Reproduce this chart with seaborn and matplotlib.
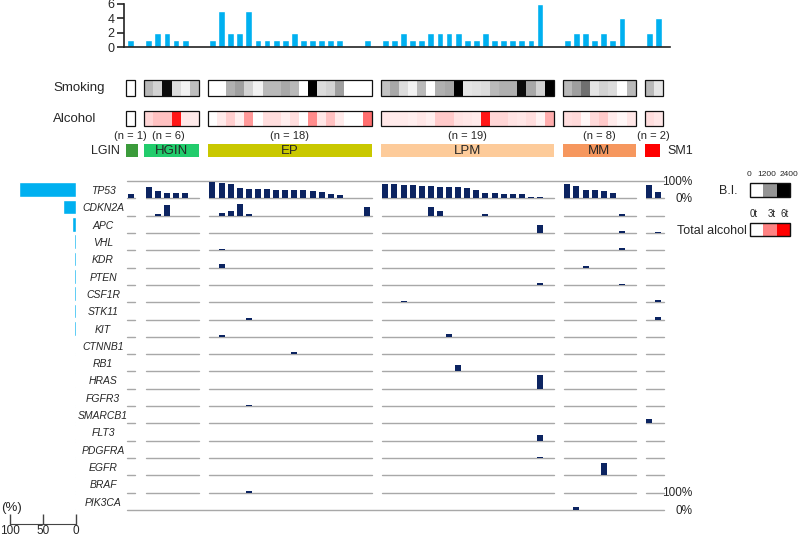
import numpy as np
import pandas as pd
import matplotlib
matplotlib.use("Agg")
import matplotlib.pyplot as plt
from matplotlib import font_manager
from matplotlib.colors import LinearSegmentedColormap
from matplotlib.patches import Rectangle
import seaborn as sns

sns.set_style("white")
plt.rcParams["font.family"] = ["Liberation Sans", "DejaVu Sans"]
installed = {f.name for f in font_manager.fontManager.ttflist}
NARROW = "Liberation Sans Narrow" if "Liberation Sans Narrow" in installed else "Liberation Sans"

groups = ["LGIN", "HGIN", "EP", "LPM", "MM", "SM1"]
group_n = [1, 6, 18, 19, 8, 2]
group_colors = ["#3b9b3b", "#22cc6c", "#c9c800", "#fdcb9a", "#f6975e", "#fe0000"]

genes = ["TP53", "CDKN2A", "APC", "VHL", "KDR", "PTEN", "CSF1R", "STK11", "KIT",
         "CTNNB1", "RB1", "HRAS", "FGFR3", "SMARCB1", "FLT3", "PDGFRA", "EGFR",
         "BRAF", "PIK3CA"]

# Brinkman index per case, groups in order LGIN | HGIN | EP | LPM | MM | SM1
smoking_bi = [0,
              800, 500, 2300, 400, 150, 750,
              0, 0, 900, 1100, 500, 150, 800, 800, 1000, 800, 0, 2400, 400, 500, 1100, 0, 0, 0,
              700, 1000, 400, 150, 800, 0, 900, 1000, 2400, 300, 350, 400, 800, 900, 900, 2300,
              1000, 500, 2400,
              800, 1100, 1500, 300, 500, 400, 0, 800,
              800, 300]

# total alcohol (t) per case
alcohol_t = [0,
             1.0, 1.5, 1.5, 5.5, 0.6, 0.5,
             0, 0.5, 1.2, 0.4, 2.5, 0, 0.8, 0.8, 0.4, 0.8, 0, 2.8, 0.6, 1.5, 0.5, 0, 0, 3.5,
             0.6, 0.5, 0.5, 0.4, 0.6, 0.4, 1.3, 1.3, 0.7, 0.6, 0.5, 5.5, 1.0, 1.0, 0.7, 0.6,
             0.8, 0.3, 2.0,
             0.8, 0.9, 0.2, 0.9, 1.3, 0.5, 0.2, 0.6,
             0.8, 0.6]

# allele frequency (%) per case, 0 = no mutation
tp53_vaf = [24,
            68, 40, 33, 30, 30, 0,
            92, 87, 81, 58, 52, 52, 52, 48, 48, 48, 48, 42, 38, 23, 19, 0, 0, 0,
            83, 81, 77, 77, 73, 71, 67, 67, 64, 58, 48, 29, 29, 23, 23, 23, 10, 10, 0,
            81, 69, 48, 48, 42, 29, 0, 0,
            77, 38]

cdkn2a_vaf = [0,
              0, 8, 60, 0, 0, 0,
              0, 13, 29, 67, 8, 0, 0, 0, 0, 0, 0, 0, 0, 0, 0, 0, 0, 48,
              0, 0, 0, 0, 0, 50, 29, 0, 0, 0, 0, 8, 0, 0, 0, 0, 0, 0, 0,
              0, 0, 0, 0, 0, 0, 12, 0,
              0, 0]

# other genes: (group, case index in group, allele frequency %)
other_muts = {
    "APC": [("LPM", 17, 46), ("MM", 6, 10), ("SM1", 1, 8)],
    "VHL": [("EP", 1, 10), ("MM", 6, 15)],
    "KDR": [("EP", 1, 23), ("MM", 2, 8)],
    "PTEN": [("LPM", 17, 13), ("MM", 6, 8)],
    "CSF1R": [("LPM", 2, 8), ("SM1", 1, 10)],
    "STK11": [("EP", 4, 9), ("SM1", 1, 15)],
    "KIT": [("EP", 1, 8), ("LPM", 7, 15)],
    "CTNNB1": [("EP", 9, 10)],
    "RB1": [("LPM", 8, 37)],
    "HRAS": [("LPM", 17, 81)],
    "FGFR3": [("EP", 4, 8)],
    "SMARCB1": [("SM1", 0, 25)],
    "FLT3": [("LPM", 17, 35)],
    "PDGFRA": [("LPM", 17, 8)],
    "EGFR": [("MM", 4, 71)],
    "BRAF": [("EP", 4, 8)],
    "PIK3CA": [("MM", 1, 15)],
}

# ---- derived tables ----
n_cases = sum(group_n)
g_start_case = np.concatenate([[0], np.cumsum(group_n)[:-1]])
g_start_slot = g_start_case + np.arange(len(groups))   # one empty slot between groups
slots = np.concatenate([np.arange(n) + s for n, s in zip(group_n, g_start_slot)])
n_slots = slots[-1] + 1

vaf = np.zeros((len(genes), n_cases))
vaf[0] = tp53_vaf
vaf[1] = cdkn2a_vaf
for gene, muts in other_muts.items():
    for grp, i, v in muts:
        vaf[genes.index(gene), g_start_case[groups.index(grp)] + i] = v

counts = (vaf > 0).sum(axis=0)
freq = (vaf > 0).sum(axis=1) / n_cases * 100

# ---- figure in pixel layout ----
W, H = 800, 539
X0, PITCH = 126, 9.1
fig = plt.figure(figsize=(W / 100, H / 100), dpi=100)


def px_ax(l, t, r, b):
    return fig.add_axes([l / W, 1 - b / H, (r - l) / W, (b - t) / H])


def ftext(x, y, s, **kw):
    return fig.text(x / W, 1 - y / H, s, **kw)


def slot_x(p):
    return (p - X0) / PITCH - 0.5


BLUE = "#00b0f0"
NAVY = "#0c2461"
GRID = "#a8a8a8"

# top: number of mutations per case
ax_top = px_ax(124, 4, 670, 47)
df_top = pd.DataFrame({"slot": slots, "n": counts})
sns.barplot(data=df_top, x="slot", y="n", native_scale=True, color=BLUE, saturation=1,
            width=0.75, errorbar=None, ax=ax_top)
ax_top.set_xlim(slot_x(124), slot_x(670))
ax_top.set_ylim(0, 6)
ax_top.set_yticks([0, 2, 4, 6])
ax_top.set_xticks([])
ax_top.set_xlabel("")
ax_top.set_ylabel("")
for s in ["top", "right"]:
    ax_top.spines[s].set_visible(False)
for s in ["left", "bottom"]:
    ax_top.spines[s].set_color("#222222")
    ax_top.spines[s].set_linewidth(1.2)
ax_top.tick_params(axis="y", left=True, length=5, width=1.2, labelsize=9, pad=2)

# smoking / alcohol strips
bi_cmap = LinearSegmentedColormap.from_list("bi", ["#ffffff", "#969696", "#000000"])
alc_cmap = LinearSegmentedColormap.from_list("alc", ["#ffffff", "#ff8484", "#ff0000"])

for vals, cmap, vmax, top, bot in [(smoking_bi, bi_cmap, 2400, 80, 96),
                                    (alcohol_t, alc_cmap, 6, 111, 126)]:
    grid = np.full((1, n_slots), np.nan)
    grid[0, slots] = vals
    ax = px_ax(X0, top, X0 + PITCH * n_slots, bot)
    sns.heatmap(grid, ax=ax, cmap=cmap, vmin=0, vmax=vmax, cbar=False,
                xticklabels=False, yticklabels=False)
    for n, s in zip(group_n, g_start_slot):
        ax.add_patch(Rectangle((s, 0), n, 1, fill=False, ec="#111111", lw=0.9, clip_on=False))

ftext(53, 88, "Smoking", fontsize=9.5, va="center", ha="left")
ftext(53, 119, "Alcohol", fontsize=9.5, va="center", ha="left")

# group bars
ax_g = px_ax(X0, 144, X0 + PITCH * n_slots, 157)
ax_g.set_xlim(0, n_slots)
ax_g.set_ylim(0, 1)
ax_g.axis("off")
for name, n, s, c in zip(groups, group_n, g_start_slot, group_colors):
    if name == "LGIN":
        ax_g.add_patch(Rectangle((-0.33, 0), 1.65, 1, color=c, lw=0))
        ax_g.text(-0.7, 0.5, name, ha="right", va="center", fontsize=9)
    elif name == "SM1":
        ax_g.add_patch(Rectangle((s, 0), n * 0.85, 1, color=c, lw=0))
        ax_g.text(s + n + 0.55, 0.5, name, ha="left", va="center", fontsize=9, clip_on=False)
    else:
        ax_g.add_patch(Rectangle((s, 0), n, 1, color=c, lw=0))
        ax_g.text(s + n / 2, 0.45, name, ha="center", va="center", fontsize=9.5)
    ftext(X0 + PITCH * (s + n / 2) - (3 if name == "HGIN" else 0), 136, f"(n = {n})",
          ha="center", va="center", fontsize=8)

# gene tracks (allele frequency, 100% = one row)
ax_m = px_ax(X0, 181, X0 + PITCH * n_slots, 510)
ax_m.set_xlim(-0.5, n_slots - 0.5)
ax_m.set_ylim(0, len(genes))
ax_m.axis("off")
nrow = len(genes)
ax_m.plot([-0.35, n_slots - 0.4], [nrow, nrow], color=GRID, lw=1, clip_on=False)
for r, gene in enumerate(genes):
    base = nrow - 1 - r
    if r == nrow - 1:
        ax_m.plot([-0.35, n_slots - 0.4], [base, base], color=GRID, lw=1, clip_on=False)
    else:
        for k, (n, s) in enumerate(zip(group_n, g_start_slot)):
            end = s + n - 0.5 if k < len(groups) - 1 else n_slots - 0.4
            ax_m.plot([s - 0.35, end], [base, base], color=GRID, lw=1, clip_on=False)
    hit = vaf[r] > 0
    ax_m.bar(slots[hit], vaf[r][hit] / 100, bottom=base, width=0.65, color=NAVY, lw=0, zorder=3)
    ftext(103, 181 + 17.3 * (r + 0.5) + 1.5, gene, ha="center", va="center",
          fontsize=8 if NARROW != "Liberation Sans" else 7.5, style="italic",
          family=[NARROW, "DejaVu Sans"])

for y, s in [(182, "100%"), (199, "0%"), (493, "100%"), (511, "0%")]:
    ftext(692, y, s, ha="right", va="center", fontsize=8.5)

# left: fraction of cases mutated
ax_l = px_ax(10, 181, 76, 510)
df_l = pd.DataFrame({"gene": genes, "pct": freq})
sns.barplot(data=df_l, x="pct", y="gene", orient="h", color=BLUE, saturation=1,
            width=0.85, errorbar=None, ax=ax_l)
ax_l.set_xlim(100, 0)
ax_l.set_ylim(len(genes) - 0.5, -0.5)
ax_l.set_yticks([])
ax_l.set_xlabel("")
ax_l.set_ylabel("")
for s in ["top", "right", "left"]:
    ax_l.spines[s].set_visible(False)
ax_l.spines["bottom"].set_position(("outward", 10))
ax_l.spines["bottom"].set_color("#444444")
ax_l.set_xticks([100, 50, 0])
ax_l.tick_params(axis="x", bottom=True, direction="in", length=7, width=1,
                 color="#444444", labelsize=8.5, pad=1)
ftext(1, 508, "(%)", ha="left", va="center", fontsize=9.5)

# legends
for vals, cmap, vmax, top, bot, ticks, tsize, label, lab_x in [
        ([0, 1200, 2400], bi_cmap, 2400, 183, 197,
         [(749, "0"), (767, "1200"), (789, "2400")], 6, "B.I.", 738),
        ([0, 3, 6], alc_cmap, 6, 223, 236,
         [(754, "0t"), (772, "3t"), (785, "6t")], 7, "Total alcohol", 747)]:
    ax = px_ax(750, top, 790, bot)
    sns.heatmap(np.array([vals], dtype=float), ax=ax, cmap=cmap, vmin=0, vmax=vmax, cbar=False,
                xticklabels=False, yticklabels=False)
    ax.add_patch(Rectangle((0, 0), 3, 1, fill=False, ec="#111111", lw=1, clip_on=False))
    for x, t in ticks:
        ftext(x, top - 9, t, ha="center", va="center", fontsize=tsize)
    ftext(lab_x, (top + bot) / 2 + 1, label, ha="right", va="center", fontsize=9)

fig.savefig("out.png", dpi=100)
